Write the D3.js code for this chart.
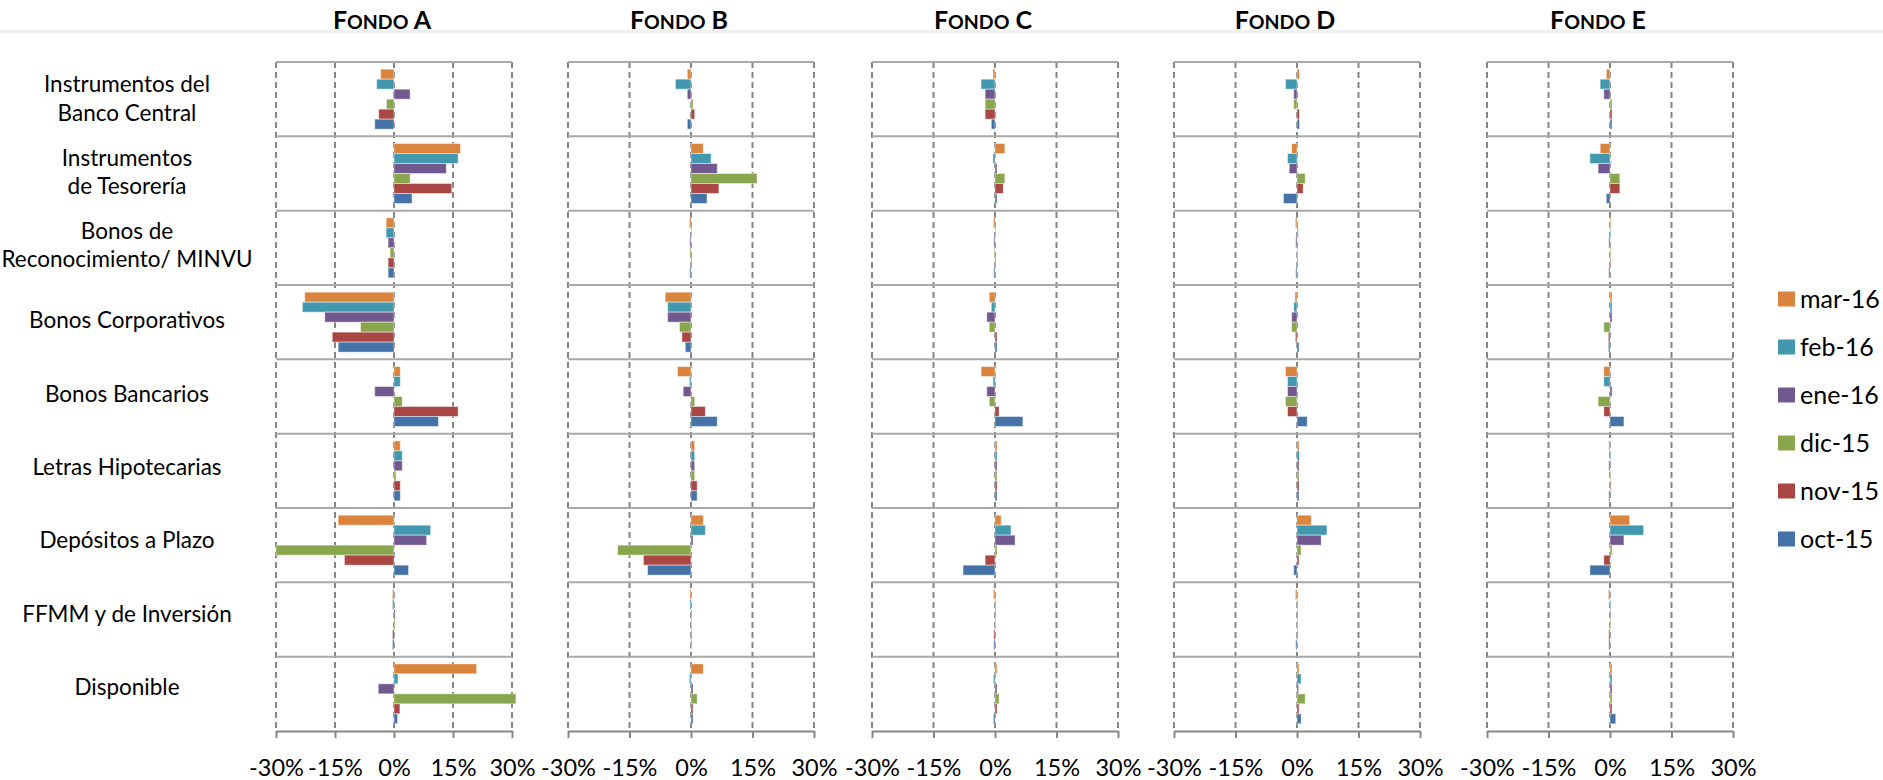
<!DOCTYPE html>
<html lang="es">
	<head>
		<meta charset="utf-8">
		<title>Fondos A-E</title>
		<script src="https://d3js.org/d3.v7.min.js"></script>
	</head>
	<style type="text/css">
	body { margin: 0; background: white; }
	text { font-family: Lato, "Open Sans", sans-serif; fill: #000; }
	</style>
	<body>
	<script>
	// categories (top to bottom)
	const categories = [
		["Instrumentos del", "Banco Central"],
		["Instrumentos", "de Tesorería"],
		["Bonos de", "Reconocimiento/ MINVU"],
		["Bonos Corporativos"],
		["Bonos Bancarios"],
		["Letras Hipotecarias"],
		["Depósitos a Plazo"],
		["FFMM y de Inversión"],
		["Disponible"]
	];
	const months = ["mar-16", "feb-16", "ene-16", "dic-15", "nov-15", "oct-15"];
	const monthColors = ["#DB843D", "#4298AF", "#71588F", "#89A54E", "#AA4643", "#4572A7"];
	const funds = ["A", "B", "C", "D", "E"];
	const xTicks = [-30, -15, 0, 15, 30];

	// one row per month (same order as months), one value (%) per category
	const fondoA = [
		[-3.4, 16.9, -2.0, -22.7, 1.6, 1.6, -14.2, -0.4, 21.0],
		[-4.4, 16.3, -2.0, -23.3, 1.6, 2.1, 9.3, -0.4, 1.0],
		[4.1, 13.3, -1.5, -17.6, -4.9, 2.1, 8.3, 0.3, -4.0],
		[-1.9, 4.1, -1.0, -8.5, 2.1, 0.5, -30.0, 0.3, 31.0],
		[-3.9, 14.7, -1.5, -15.7, 16.3, 1.6, -12.6, -0.4, 1.5],
		[-4.9, 4.6, -1.5, -14.2, 11.3, 1.6, 3.7, -0.4, 0.9]
	];
	const fondoB = [
		[-0.9, 3.0, -0.4, -6.3, -3.3, 0.9, 3.0, -0.3, 3.0],
		[-3.8, 4.9, 0.2, -5.7, -0.4, 0.9, 3.5, -0.3, -0.4],
		[-0.9, 6.4, -0.3, -5.7, -1.9, 0.9, 0.5, 0.2, 0.5],
		[0.5, 16.1, -0.3, -2.8, 0.9, 0.9, -17.9, 0.2, 1.5],
		[0.9, 6.8, 0.2, -2.2, 3.5, 1.5, -11.6, 0.2, 0.5],
		[-0.9, 3.9, -0.3, -1.4, 6.4, 1.5, -10.6, 0.2, 0.5]
	];
	const fondoC = [
		[-0.5, 2.4, -0.4, -1.4, -3.4, 0.5, 1.5, -0.4, 0.5],
		[-3.4, -0.5, 0.2, -0.9, -0.5, 0.5, 3.9, 0.2, -0.4],
		[-2.4, 0.5, -0.3, -2.0, -2.0, 0.5, 4.9, 0.2, 0.5],
		[-2.4, 2.4, -0.2, -1.4, -1.4, 0.5, 0.5, 0.2, 1.0],
		[-2.4, 2.0, 0.2, 0.5, 1.0, 0.5, -2.4, -0.3, 0.5],
		[-0.9, 0.5, -0.3, 0.5, 6.8, 0.5, -7.8, -0.3, -0.4]
	];
	const fondoD = [
		[0.6, -1.3, -0.4, -0.5, -2.8, 0.5, 3.5, -0.4, 0.5],
		[-2.8, -2.3, 0.3, -0.8, -2.3, 0.6, 7.3, 0.2, 1.0],
		[-0.8, -1.9, -0.3, -1.3, -2.3, 0.5, 5.9, 0.2, 0.4],
		[-0.8, 2.0, 0.2, -1.3, -2.8, 0.5, 1.0, 0.2, 2.0],
		[0.6, 1.5, 0.2, -0.4, -2.3, 0.5, 0.5, 0.2, 0.5],
		[0.6, -3.3, -0.3, 0.5, 2.5, 0.5, -0.8, -0.3, 1.0]
	];
	const fondoE = [
		[-0.9, -2.4, 0.2, 0.5, -1.5, -0.3, 4.8, -0.4, 0.5],
		[-2.4, -4.9, 0.2, 0.5, -1.5, 0.2, 8.2, 0.2, 0.5],
		[-1.5, -2.9, -0.3, 0.5, 0.5, -0.3, 3.4, 0.2, 0.5],
		[0.5, 2.4, 0.2, -1.5, -2.9, 0.2, 0.5, 0.2, 0.5],
		[0.5, 2.4, 0.2, -0.4, -1.5, 0.2, -1.5, -0.3, 0.5],
		[0.5, -0.9, -0.3, -0.4, 3.4, -0.3, -4.9, -0.3, 1.4]
	];
	const fundData = [fondoA, fondoB, fondoC, fondoD, fondoE];

	// layout
	const SvgWidth = 1883
	const SvgHeight = 780
	const panelX = [[276, 512], [568, 814], [872, 1118], [1174, 1420], [1487, 1733]];
	const plotTop = 62
	const plotBottom = 731
	const labelX = 127

	const svg = d3.select("body").append("svg")
		.attr("width", SvgWidth)
		.attr("height", SvgHeight);

	svg.append("rect")
		.attr("width", SvgWidth)
		.attr("height", SvgHeight)
		.style("fill", "white");

	// faint band under the titles
	svg.append("rect")
		.attr("x", 0).attr("y", 30)
		.attr("width", SvgWidth).attr("height", 3)
		.style("fill", "#f0f0f0");

	var yScale = d3.scaleBand()
		.domain(d3.range(categories.length))
		.range([plotTop, plotBottom]);

	// the label column sits on a slightly shorter band than the plots
	var labelScale = d3.scaleBand()
		.domain(d3.range(categories.length))
		.range([plotTop + 2, plotBottom - 7]);

	var mScale = d3.scaleBand()
		.domain(months)
		.range([0, yScale.bandwidth()])
		.paddingOuter(0.72);

	// category labels
	categories.forEach(function(lines, i){
		var cy = labelScale(i) + labelScale.bandwidth() / 2;
		var t = svg.append("text")
			.attr("text-anchor", "middle")
			.style("font-size", "22.5px");
		lines.forEach(function(line, j){
			var off = lines.length == 1 ? 7.5 : (j == 0 ? -8.5 : 20);
			t.append("tspan")
				.attr("x", labelX)
				.attr("y", cy + off)
				.text(line);
		});
	});

	funds.forEach(function(fund, f){
		var xScale = d3.scaleLinear().domain([-30, 30]).range(panelX[f]);
		var g = svg.append("g");

		// title (small caps)
		var cx = (panelX[f][0] + panelX[f][1]) / 2 - 12;
		var title = g.append("text")
			.attr("x", cx).attr("y", 29.3)
			.attr("text-anchor", "middle")
			.style("font-weight", "bold");
		title.append("tspan").style("font-size", "25px").text("F");
		title.append("tspan").style("font-size", "19.5px").text("ONDO");
		title.append("tspan").style("font-size", "25px").text(" " + fund);

		// dashed vertical gridlines
		g.selectAll(".grid")
			.data(xTicks)
			.enter().append("line")
			.attr("x1", d => xScale(d)).attr("x2", d => xScale(d))
			.attr("y1", plotTop).attr("y2", plotBottom)
			.attr("stroke", "#868686")
			.attr("stroke-width", 2)
			.attr("stroke-dasharray", "6,4");

		// row separators
		g.selectAll(".row")
			.data(d3.range(categories.length))
			.enter().append("line")
			.attr("x1", panelX[f][0]).attr("x2", panelX[f][1])
			.attr("y1", d => yScale(d)).attr("y2", d => yScale(d))
			.attr("stroke", "#a9a9a9")
			.attr("stroke-width", 2);

		// bars
		fundData[f].forEach(function(vals, m){
			g.selectAll(".bar" + m)
				.data(vals)
				.enter().append("rect")
				.attr("x", d => xScale(Math.min(0, d)))
				.attr("y", (d, i) => yScale(i) + mScale(months[m]))
				.attr("width", d => Math.abs(xScale(d) - xScale(0)))
				.attr("height", mScale.bandwidth())
				.attr("fill", monthColors[m])
				.attr("stroke", "rgba(255,255,255,0.45)")
				.attr("stroke-width", 1);
		});

		// bottom axis
		var axis = g.append("g")
			.attr("transform", "translate(0," + plotBottom + ")")
			.call(d3.axisBottom(xScale)
				.tickValues(xTicks)
				.tickSize(7)
				.tickSizeOuter(0)
				.tickFormat(d => d + "%"));
		axis.select(".domain").attr("stroke", "#868686").attr("stroke-width", 2);
		axis.selectAll(".tick line").attr("stroke", "#868686").attr("stroke-width", 2);
		axis.selectAll(".tick text")
			.attr("y", 45)
			.attr("dy", 0)
			.style("font-family", "Lato, sans-serif")
			.style("font-size", "23.5px")
			.attr("fill", "#000");
	});

	// legend
	var legend = svg.append("g");
	months.forEach(function(m, i){
		var cy = 299 + i * 48;
		legend.append("rect")
			.attr("x", 1778).attr("y", cy - 7.5)
			.attr("width", 17).attr("height", 15)
			.attr("fill", monthColors[i]);
		legend.append("text")
			.attr("x", 1800).attr("y", cy + 8.5)
			.style("font-size", "25px")
			.text(m);
	});
	</script>
	</body>
</html>
